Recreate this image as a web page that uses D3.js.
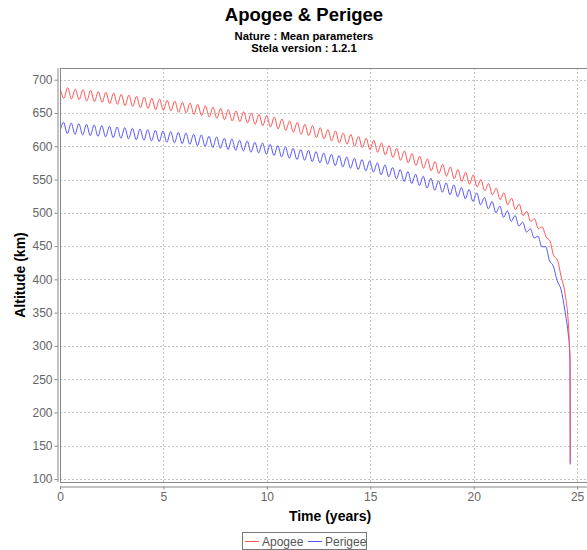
<!DOCTYPE html>
<html>
<head>
<meta charset="utf-8">
<script src="https://cdn.jsdelivr.net/npm/d3@7"></script>
<style>
  body { margin: 0; background: #fff; }
  svg { display: block; font-family: "Liberation Sans", Arial, sans-serif; }
</style>
</head>
<body>
<script>
// data (time in years, altitude in km)
var apogeeYears = [0, 0.185, 0.37, 0.555, 0.74, 0.925, 1.11, 1.295, 1.48, 1.665, 1.85, 2.035, 2.22, 2.405, 2.59, 2.775, 2.96, 3.145, 3.33, 3.515,
  3.7, 3.885, 4.07, 4.255, 4.44, 4.625, 4.81, 4.995, 5.18, 5.365, 5.55, 5.735, 5.92, 6.105, 6.29, 6.475, 6.66, 6.845, 7.03, 7.215,
  7.4, 7.585, 7.77, 7.955, 8.14, 8.325, 8.51, 8.695, 8.88, 9.065, 9.25, 9.435, 9.62, 9.805, 9.99, 10.175, 10.36, 10.545, 10.73, 10.915,
  11.1, 11.285, 11.47, 11.655, 11.84, 12.025, 12.21, 12.395, 12.58, 12.765, 12.95, 13.135, 13.32, 13.505, 13.69, 13.875, 14.06, 14.245, 14.43, 14.615,
  14.8, 14.985, 15.17, 15.355, 15.54, 15.725, 15.91, 16.095, 16.28, 16.465, 16.65, 16.835, 17.02, 17.205, 17.39, 17.575, 17.76, 17.945, 18.13, 18.315,
  18.5, 18.685, 18.87, 19.055, 19.24, 19.425, 19.61, 19.795, 19.98, 20.165, 20.35, 20.535, 20.72, 20.905, 21.09, 21.275, 21.46, 21.645, 21.83, 22.015,
  22.2, 22.385, 22.57, 22.755, 22.94, 23.125, 23.31, 23.495, 23.68, 23.865, 24.05, 24.235, 24.42, 24.605, 24.64, 24.66, 24.665];
var apogeeKm = [689, 672, 688, 671, 686, 670, 685, 668, 684, 667, 682, 666, 681, 664, 680, 663, 678, 661, 677, 660,
  675, 658, 674, 657, 672, 655, 671, 654, 669, 653, 668, 651, 666, 650, 665, 648, 663, 646, 661, 644,
  659, 642, 657, 640, 655, 638, 653, 637, 652, 635, 650, 633, 648, 631, 646, 629, 644, 626, 641, 624,
  638, 621, 636, 618, 633, 616, 631, 613, 628, 611, 625, 608, 623, 605, 620, 603, 618, 600, 615, 598,
  612, 595, 609, 591, 605, 587, 601, 583, 597, 579, 593, 575, 589, 571, 585, 567, 581, 563, 577, 559,
  573, 555, 569, 551, 565, 547, 561, 543, 557, 539, 550, 533, 544, 527, 537, 520, 530, 512, 522, 505,
  513, 496, 502, 487, 491, 476, 479, 464, 458, 436, 429, 403, 378, 318, 290, 272, 125];

var perigeeYears = [0, 0.17, 0.355, 0.54, 0.725, 0.91, 1.095, 1.28, 1.465, 1.65, 1.835, 2.02, 2.205, 2.39, 2.575, 2.76, 2.945, 3.13, 3.315, 3.5,
  3.685, 3.87, 4.055, 4.24, 4.425, 4.61, 4.795, 4.98, 5.165, 5.35, 5.535, 5.72, 5.905, 6.09, 6.275, 6.46, 6.645, 6.83, 7.015, 7.2,
  7.385, 7.57, 7.755, 7.94, 8.125, 8.31, 8.495, 8.68, 8.865, 9.05, 9.235, 9.42, 9.605, 9.79, 9.975, 10.16, 10.345, 10.53, 10.715, 10.9,
  11.085, 11.27, 11.455, 11.64, 11.825, 12.01, 12.195, 12.38, 12.565, 12.75, 12.935, 13.12, 13.305, 13.49, 13.675, 13.86, 14.045, 14.23, 14.415, 14.6,
  14.785, 14.97, 15.155, 15.34, 15.525, 15.71, 15.895, 16.08, 16.265, 16.45, 16.635, 16.82, 17.005, 17.19, 17.375, 17.56, 17.745, 17.93, 18.115, 18.3,
  18.485, 18.67, 18.855, 19.04, 19.225, 19.41, 19.595, 19.78, 19.965, 20.15, 20.335, 20.52, 20.705, 20.89, 21.075, 21.26, 21.445, 21.63, 21.815, 22,
  22.185, 22.37, 22.555, 22.74, 22.925, 23.11, 23.295, 23.48, 23.665, 23.85, 24.035, 24.22, 24.405, 24.59, 24.63, 24.655, 24.67];
var perigeeKm = [622, 636, 619, 635, 618, 634, 617, 633, 616, 632, 615, 631, 614, 630, 613, 629, 612, 628, 611, 627,
  610, 626, 609, 625, 608, 624, 607, 623, 606, 622, 605, 621, 604, 620, 603, 618, 601, 617, 600, 615,
  598, 614, 597, 612, 595, 611, 594, 609, 593, 608, 591, 606, 590, 605, 588, 603, 586, 601, 584, 599,
  582, 597, 580, 595, 579, 594, 577, 592, 575, 590, 573, 588, 571, 586, 569, 584, 567, 582, 565, 580,
  563, 578, 561, 575, 557, 572, 554, 568, 551, 565, 547, 562, 544, 558, 541, 555, 537, 552, 534, 548,
  531, 545, 527, 542, 524, 538, 521, 535, 517, 530, 512, 523, 506, 517, 500, 510, 493, 503, 487, 496,
  480, 486, 471, 476, 462, 465, 449, 449, 428, 420, 398, 385, 354, 313, 300, 280, 122];

var xTicks = [0, 5, 10, 15, 20, 25];
var yTicks = [100, 150, 200, 250, 300, 350, 400, 450, 500, 550, 600, 650, 700];
var seriesNames = ["Apogee", "Perigee"];
var seriesColors = ["#ff5555", "#5555ff"];

var W = 587, H = 550;
var plot = {left: 60, top: 68, right: 604, bottom: 482};

var svg = d3.select("body").append("svg")
    .attr("width", W)
    .attr("height", H);

var x = d3.scaleLinear().domain([0, 26.3]).range([plot.left, plot.right]);
var y = d3.scaleLinear().domain([95.5, 717.6]).range([plot.bottom, plot.top]);

// titles
svg.append("text").attr("x", 304).attr("y", 21).attr("text-anchor", "middle")
    .style("font-size", "18.5px").style("font-weight", "bold").text("Apogee & Perigee");
svg.append("text").attr("x", 304).attr("y", 40).attr("text-anchor", "middle")
    .style("font-size", "11.3px").style("font-weight", "bold").text("Nature : Mean parameters");
svg.append("text").attr("x", 304).attr("y", 52).attr("text-anchor", "middle")
    .style("font-size", "11.3px").style("font-weight", "bold").text("Stela version : 1.2.1");

// gridlines
var grid = svg.append("g").attr("stroke", "#c4c4c4").attr("stroke-dasharray", "2,2").attr("stroke-width", 1);
grid.selectAll(".gy").data(yTicks).enter().append("line")
    .attr("x1", plot.left).attr("x2", plot.right)
    .attr("y1", function (d) { return Math.round(y(d)) + 0.5; })
    .attr("y2", function (d) { return Math.round(y(d)) + 0.5; });
grid.selectAll(".gx").data(xTicks).enter().append("line")
    .attr("y1", plot.top).attr("y2", plot.bottom)
    .attr("x1", function (d) { return Math.round(x(d)) + 0.5; })
    .attr("x2", function (d) { return Math.round(x(d)) + 0.5; });

// series
svg.append("clipPath").attr("id", "clip").append("rect")
    .attr("x", plot.left).attr("y", plot.top)
    .attr("width", plot.right - plot.left).attr("height", plot.bottom - plot.top);

var line = d3.line()
    .x(function (d) { return x(d[0]); })
    .y(function (d) { return y(d[1]); })
    .curve(d3.curveMonotoneX);

var perigee = d3.zip(perigeeYears, perigeeKm);
var apogee = d3.zip(apogeeYears, apogeeKm);

svg.append("path").datum(perigee).attr("clip-path", "url(#clip)")
    .attr("fill", "none").attr("stroke", seriesColors[1]).attr("stroke-width", 1).attr("d", line);
svg.append("path").datum(apogee).attr("clip-path", "url(#clip)")
    .attr("fill", "none").attr("stroke", seriesColors[0]).attr("stroke-width", 1).attr("d", line);

// plot outline
svg.append("rect").attr("x", plot.left + 0.5).attr("y", plot.top + 0.5)
    .attr("width", plot.right - plot.left).attr("height", plot.bottom - plot.top)
    .attr("fill", "none").attr("stroke", "#888");

// axes, offset a few pixels from the plot like the original
var yAxis = svg.append("g")
    .attr("transform", "translate(" + (plot.left - 2.5) + ",0)")
    .call(d3.axisLeft(y).tickValues(yTicks).tickSize(3).tickPadding(2));
var xAxis = svg.append("g")
    .attr("transform", "translate(0," + (plot.bottom + 4.5) + ")")
    .call(d3.axisBottom(x).tickValues(xTicks).tickSize(3).tickPadding(3));

[yAxis, xAxis].forEach(function (a) {
    a.select(".domain").attr("stroke", "#888");
    a.selectAll(".tick line").attr("stroke", "#888");
    a.selectAll(".tick text").attr("fill", "#666")
        .style("font-size", "12px").style("font-family", "\"Liberation Sans\", Arial, sans-serif");
});
yAxis.select(".domain").attr("d", "M0.5," + plot.top + "V" + plot.bottom);
xAxis.select(".domain").attr("d", "M" + plot.left + ",0.5H" + plot.right);

svg.append("text")
    .attr("transform", "translate(25," + ((plot.top + plot.bottom) / 2) + ") rotate(-90)")
    .attr("text-anchor", "middle")
    .style("font-size", "14px").style("font-weight", "bold")
    .text("Altitude (km)");
svg.append("text")
    .attr("x", 330).attr("y", 521).attr("text-anchor", "middle")
    .style("font-size", "14px").style("font-weight", "bold")
    .text("Time (years)");

// legend
var legend = svg.append("g");
legend.append("rect").attr("x", 242.5).attr("y", 532.5).attr("width", 124).attr("height", 17)
    .attr("fill", "#fff").attr("stroke", "#777");
var legendX = [245, 308];
seriesNames.forEach(function (name, i) {
    legend.append("line").attr("x1", legendX[i]).attr("x2", legendX[i] + 14)
        .attr("y1", 541.5).attr("y2", 541.5).attr("stroke", seriesColors[i]);
    legend.append("text").attr("x", legendX[i] + 17).attr("y", 545.5)
        .style("font-size", "12px").attr("fill", "#555").text(name);
});
</script>
</body>
</html>
